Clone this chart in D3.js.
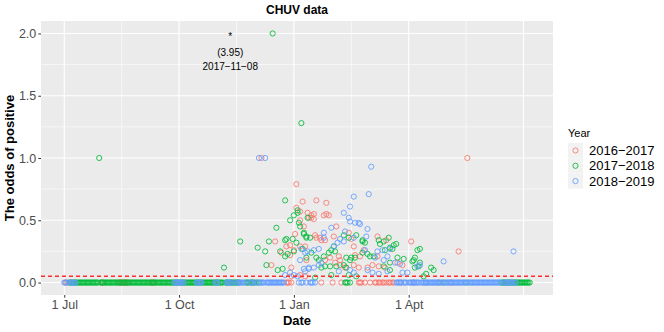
<!DOCTYPE html>
<html>
<head>
<meta charset="utf-8">
<script src="https://cdn.jsdelivr.net/npm/d3@7/dist/d3.min.js"></script>
<style>
    body { margin: 0; background: #fff; }
    text { font-family: "Liberation Sans", Arial, Helvetica, sans-serif; }
</style>
</head>
<body>
<svg id="chart" width="664" height="332"></svg>
<script>
// x = days since 1 Jul of the season, y = odds of positive
const seasons = ["2016\u22122017", "2017\u22122018", "2018\u22122019"];
const colors = ["#F8766D", "#00BA38", "#619CFF"];

const red = [
    [158, 1.0], [186, 0.79], [191, 0.65], [186, 0.60], [189, 0.57], [195, 0.56], [189, 0.50],
    [192, 0.45], [185, 0.39], [169, 0.33], [178, 0.29], [181, 0.30], [184, 0.26], [174, 0.24],
    [181, 0.22], [194, 0.18], [166, 0.14], [182, 0.12], [182, 0.05], [202, 0.66], [210, 0.64],
    [198, 0.54], [200, 0.51], [208, 0.54], [212, 0.54], [218, 0.45], [201, 0.38], [202, 0.36],
    [205, 0.36], [206, 0.34], [209, 0.34], [216, 0.37], [230, 0.35], [251, 0.37], [258, 0.34],
    [189, 0.29], [193, 0.29], [209, 0.18], [213, 0.20], [220, 0.21], [221, 0.18], [233, 0.22],
    [237, 0.21], [217, 0.16], [221, 0.14], [225, 0.12], [232, 0.14], [236, 0.12], [243, 0.12],
    [247, 0.14], [252, 0.13], [257, 0.12], [267, 0.16], [271, 0.14], [189, 0.06], [193, 0.05],
    [228, 0.40], [232, 0.29], [240, 0.26], [251, 0.21], [278, 0.33], [316, 0.25], [323, 1.0],
    [196, 0.52], [198, 0.52], [200, 0.55], [210, 0.55]
];
const redZeros = [1, 2, 30, 31, 44, 45, 46, 47, 48, 49, 50, 51, 70, 71, 72, 178, 179, 180, 182,
    206, 215, 222, 236, 237, 238, 241, 245, 249, 250, 252, 253, 255, 256, 258, 260, 261, 263,
    264, 270, 280, 290, 300, 310];

const green = [
    [28, 1.0], [167, 2.0], [190, 1.28], [177, 0.66], [187, 0.58], [184, 0.54], [195, 0.52],
    [181, 0.50], [188, 0.48], [189, 0.45], [170, 0.44], [192, 0.39], [194, 0.36], [178, 0.35],
    [183, 0.35], [141, 0.33], [164, 0.33], [186, 0.32], [155, 0.28], [161, 0.25], [173, 0.25],
    [177, 0.21], [179, 0.23], [184, 0.25], [191, 0.27], [194, 0.20], [128, 0.12], [162, 0.14],
    [171, 0.10], [175, 0.11], [187, 0.56], [177, 0.34], [192, 0.40], [194, 0.37], [197, 0.36],
    [224, 0.38], [228, 0.36], [234, 0.38], [239, 0.34], [241, 0.32], [260, 0.36], [252, 0.34],
    [253, 0.31], [264, 0.30], [266, 0.31], [263, 0.27], [257, 0.26], [261, 0.28], [198, 0.24],
    [202, 0.20], [204, 0.18], [208, 0.21], [212, 0.24], [214, 0.26], [216, 0.29], [217, 0.25],
    [226, 0.20], [229, 0.18], [230, 0.20], [233, 0.20], [224, 0.14], [239, 0.24], [243, 0.23],
    [245, 0.21], [248, 0.21], [267, 0.20], [272, 0.19], [283, 0.26], [281, 0.20], [279, 0.17],
    [284, 0.13], [206, 0.12], [209, 0.13], [213, 0.13], [214, 0.06], [201, 0.04], [218, 0.13],
    [226, 0.12], [228, 0.06], [234, 0.05], [256, 0.13], [261, 0.16], [261, 0.10], [239, 0.33],
    [256, 0.33], [285, 0.27], [280, 0.18], [285, 0.16], [281, 0.12], [294, 0.12], [296, 0.10],
    [290, 0.07], [288, 0.05]
];
const greenZeros = [4, 5, 6, 7, 8, 9, 10, 11, 12, 13, 14, 15, 16, 17, 18, 19, 20, 21, 22, 23,
    24, 25, 26, 27, 29, 30, 31, 32, 33, 34, 35, 36, 37, 38, 39, 40, 41, 42, 43, 44, 45, 46, 47,
    48, 49, 50, 51, 52, 53, 54, 55, 56, 57, 58, 59, 60, 61, 62, 63, 64, 65, 66, 67, 68, 69, 70,
    71, 72, 73, 74, 75, 76, 77, 78, 79, 80, 81, 82, 83, 84, 85, 86, 87, 88, 89, 90, 91, 92, 93,
    94, 95, 96, 97, 98, 99, 100, 101, 102, 103, 104, 105, 106, 107, 108, 109, 110, 111, 112,
    113, 114, 115, 116, 117, 118, 119, 120, 121, 122, 123, 124, 125, 126, 127, 129, 130, 131,
    132, 133, 134, 135, 136, 137, 138, 139, 140, 146, 147, 148, 150, 151, 152, 154, 156, 225,
    226, 227, 229, 304, 322, 350, 351, 352, 353, 354, 355, 356, 357, 358, 359, 360, 361, 362,
    363, 364, 365, 366, 367, 368, 369, 370, 371, 372, 373];

const blue = [
    [156, 1.0], [161, 1.0], [246, 0.93], [232, 0.69], [244, 0.71], [224, 0.56], [229, 0.61],
    [228, 0.52], [229, 0.49], [233, 0.48], [236, 0.48], [237, 0.47], [214, 0.44], [243, 0.43],
    [225, 0.41], [208, 0.40], [208, 0.36], [221, 0.35], [224, 0.33], [219, 0.32], [216, 0.29],
    [190, 0.27], [195, 0.25], [200, 0.26], [204, 0.27], [241, 0.26], [251, 0.25], [249, 0.20],
    [256, 0.18], [259, 0.21], [255, 0.26], [261, 0.27], [265, 0.16], [269, 0.15], [285, 0.14],
    [283, 0.13], [192, 0.11], [196, 0.12], [200, 0.12], [204, 0.14], [206, 0.16], [220, 0.09],
    [229, 0.10], [232, 0.08], [243, 0.10], [247, 0.08], [252, 0.07], [259, 0.09], [271, 0.08],
    [275, 0.08], [193, 0.24], [189, 0.18], [177, 0.06], [181, 0.08], [184, 0.06], [187, 0.05],
    [193, 0.09], [196, 0.11], [232, 0.36], [242, 0.37], [304, 0.17], [360, 0.25]
];
const blueZeros = [0, 1, 3, 5, 6, 7, 8, 9, 88, 89, 90, 91, 92, 93, 94, 95, 96, 106, 107, 108,
    109, 110, 121, 122, 123, 130, 131, 132, 133, 134, 138, 139, 140, 141, 142, 143, 144, 145,
    149, 150, 151, 153, 155, 157, 158, 159, 160, 162, 163, 164, 165, 166, 167, 168, 169, 170,
    171, 172, 173, 174, 175, 176, 188, 190, 191, 194, 197, 198, 199, 201, 266, 267, 268, 269,
    270, 272, 273, 274, 276, 277, 278, 279, 280, 281, 282, 283, 284, 286, 287, 288, 289, 290,
    291, 292, 293, 294, 295, 296, 297, 298, 299, 300, 301, 302, 303, 305, 306, 307, 308, 309,
    310, 311, 312, 313, 314, 315, 316, 317, 318, 319, 320, 321, 323, 324, 325, 326, 327, 328,
    329, 330, 331, 332, 333, 334, 335, 336, 337, 338, 339, 340, 341, 342, 343, 344, 345, 346,
    347, 348, 349, 352, 353, 354, 355, 356, 357, 358, 359, 361, 362];

const tickDays = [0, 92, 184, 276];
const tickLabels = ["1 Jul", "1 Oct", "1 Jan", "1 Apt"];
const gridMajorX = [0, 92, 184, 276, 368];
const gridMinorX = [46, 138, 230, 322];
const yTicks = [0, 0.5, 1, 1.5, 2];
const yMinor = [0.25, 0.75, 1.25, 1.75];
const threshold = 0.05;
const note = { day: 133, value: 2.0, odds: "(3.95)", date: "2017\u221211\u221208" };

const svg = d3.select("#chart");
const panel = { left: 41, right: 553, top: 21, bottom: 295 };

// build the point table: red first, then green, then blue on top
const series = [
    { pts: red, zeros: redZeros },
    { pts: green, zeros: greenZeros },
    { pts: blue, zeros: blueZeros }
];
const points = [];
series.forEach((s, i) => {
    const all = s.pts.map(p => ({ day: p[0], v: p[1], k: i }))
        .concat(s.zeros.map(d => ({ day: d, v: 0, k: i })));
    all.sort((a, b) => a.day - b.day);
    points.push(...all);
});

const xExt = d3.extent(points, d => d.day);
const xPad = (xExt[1] - xExt[0]) * 0.05;
const x = d3.scaleLinear()
    .domain([xExt[0] - xPad, xExt[1] + xPad])
    .range([panel.left, panel.right]);
const y = d3.scaleLinear()
    .domain([-0.1, 2.1])
    .range([panel.bottom, panel.top]);

svg.append("rect")
    .attr("x", panel.left).attr("y", panel.top)
    .attr("width", panel.right - panel.left).attr("height", panel.bottom - panel.top)
    .attr("fill", "#ebebeb");

// grid
const grid = svg.append("g");
grid.selectAll(".ymin").data(yMinor).join("line")
    .attr("x1", panel.left).attr("x2", panel.right)
    .attr("y1", d => y(d)).attr("y2", d => y(d))
    .attr("stroke", "#fff").attr("stroke-width", 0.6);
grid.selectAll(".xmin").data(gridMinorX).join("line")
    .attr("y1", panel.top).attr("y2", panel.bottom)
    .attr("x1", d => x(d)).attr("x2", d => x(d))
    .attr("stroke", "#fff").attr("stroke-width", 0.6);
grid.selectAll(".ymaj").data(yTicks).join("line")
    .attr("x1", panel.left).attr("x2", panel.right)
    .attr("y1", d => y(d)).attr("y2", d => y(d))
    .attr("stroke", "#fff").attr("stroke-width", 1.1);
grid.selectAll(".xmaj").data(gridMajorX).join("line")
    .attr("y1", panel.top).attr("y2", panel.bottom)
    .attr("x1", d => x(d)).attr("x2", d => x(d))
    .attr("stroke", "#fff").attr("stroke-width", 1.1);

// points
svg.append("g").selectAll("circle")
    .data(points)
    .join("circle")
    .attr("cx", d => x(d.day))
    .attr("cy", d => y(d.v))
    .attr("r", 2.6)
    .attr("fill", "none")
    .attr("stroke", d => colors[d.k])
    .attr("stroke-width", 0.85);

// threshold line
svg.append("line")
    .attr("x1", panel.left).attr("x2", panel.right)
    .attr("y1", y(threshold)).attr("y2", y(threshold))
    .attr("stroke", "#ff2d2d")
    .attr("stroke-width", 1.4)
    .attr("stroke-dasharray", "4,3");

// annotation
const noteG = svg.append("g").attr("font-size", 10).attr("text-anchor", "middle").attr("fill", "#000");
noteG.append("text").attr("x", x(note.day)).attr("y", y(note.value) + 6.5).text("*");
noteG.append("text").attr("x", x(note.day)).attr("y", y(1.848) + 3.6).text(note.odds);
noteG.append("text").attr("x", x(note.day)).attr("y", y(1.732) + 3.6).text(note.date);

// axes
const yAxis = svg.append("g")
    .attr("transform", `translate(${panel.left},0)`)
    .call(d3.axisLeft(y).tickValues(yTicks).tickFormat(d3.format(".1f")).tickSize(2.7).tickPadding(2));
const xAxis = svg.append("g")
    .attr("transform", `translate(0,${panel.bottom})`)
    .call(d3.axisBottom(x).tickValues(tickDays).tickFormat((d, i) => tickLabels[i]).tickSize(2.7).tickPadding(2));
[yAxis, xAxis].forEach(a => {
    a.select(".domain").remove();
    a.selectAll(".tick line").attr("stroke", "#333");
    a.selectAll(".tick text").attr("fill", "#4d4d4d").attr("font-size", 12.5)
        .style("font-family", '"Liberation Sans", Arial, sans-serif');
});

// titles
svg.append("text")
    .attr("x", (panel.left + panel.right) / 2).attr("y", 14)
    .attr("text-anchor", "middle").attr("font-size", 12).attr("font-weight", "bold")
    .text("CHUV data");
svg.append("text")
    .attr("x", (panel.left + panel.right) / 2).attr("y", 325)
    .attr("text-anchor", "middle").attr("font-size", 13).attr("font-weight", "bold")
    .text("Date");
svg.append("text")
    .attr("transform", `translate(14,${(panel.top + panel.bottom) / 2}) rotate(-90)`)
    .attr("text-anchor", "middle").attr("font-size", 13).attr("font-weight", "bold")
    .text("The odds of positive");

// legend
const legend = svg.append("g").attr("transform", "translate(568,0)");
legend.append("text").attr("x", 0).attr("y", 137).attr("font-size", 11).text("Year");
const keys = legend.selectAll(".key").data(seasons).join("g")
    .attr("transform", (d, i) => `translate(0,${143 + i * 15.3})`);
keys.append("rect").attr("width", 15).attr("height", 15).attr("fill", "#f2f2f2");
keys.append("circle").attr("cx", 7.5).attr("cy", 7.5).attr("r", 2.6)
    .attr("fill", "none").attr("stroke", (d, i) => colors[i]).attr("stroke-width", 0.85);
keys.append("text").attr("x", 21).attr("y", 12).attr("font-size", 13).text(d => d);
</script>
</body>
</html>
